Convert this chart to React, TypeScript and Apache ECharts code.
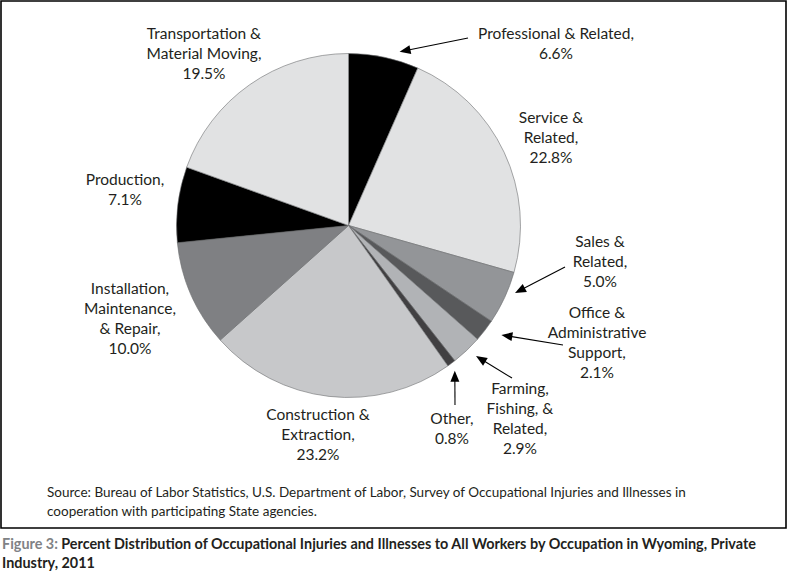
import React, { useEffect, useRef } from "react";
import * as echarts from "echarts";

const categories = [
  "Professional & Related",
  "Service & Related",
  "Sales & Related",
  "Office & Administrative Support",
  "Farming, Fishing, & Related",
  "Other",
  "Construction & Extraction",
  "Installation, Maintenance, & Repair",
  "Production",
  "Transportation & Material Moving",
];
const values = [6.6, 22.8, 5.0, 2.1, 2.9, 0.8, 23.2, 10.0, 7.1, 19.5];
const labelTexts = [
  "Professional & Related,",
  "Service &\nRelated,",
  "Sales &\nRelated,",
  "Office &\nAdministrative\nSupport,",
  "Farming,\nFishing, &\nRelated,",
  "Other,",
  "Construction &\nExtraction,",
  "Installation,\nMaintenance,\n& Repair,",
  "Production,",
  "Transportation &\nMaterial Moving,",
];
const colors = [
  "#000000", "#e1e2e3", "#939598", "#58595b", "#b1b3b6",
  "#414042", "#c7c8ca", "#7f8083", "#000000", "#e1e2e3",
];
// label block centres (layout)
const labelPos: [number, number][] = [
  [556, 43], [551, 137], [600, 261], [597, 342], [520, 418],
  [452, 428], [318, 434], [130, 318], [125, 189], [204, 53],
];
// arrows: [dataIndex, fraction within slice, tip radius, tailX, tailY]
const arrows: [number, number, number, number, number][] = [
  [0, 0.69, 181, 468, 38],
  [2, 0.346, 179.7, 565, 267],
  [3, 0.23, 188, 563, 345],
  [4, 0.41, 182.5, 512, 378],
  [5, 0.68, 180, 455, 405],
];

const CX = 348.5;
const CY = 225.5;
const R = 172;
const FONT = "Lato, 'Open Sans', sans-serif";

export default function App() {
  const ref = useRef<HTMLDivElement>(null);
  useEffect(() => {
    if (!ref.current) return;
    const chart = echarts.init(ref.current, null, { renderer: "svg" });
    const total = values.reduce((a, b) => a + b, 0);
    const starts: number[] = [];
    let acc = 0;
    values.forEach((v) => {
      starts.push(acc);
      acc += v;
    });
    const arrowEls: any[] = [];
    arrows.forEach(([i, f, r, tx, ty]) => {
      const ang = ((starts[i] + f * values[i]) / total) * Math.PI * 2;
      const px = CX + r * Math.sin(ang);
      const py = CY - r * Math.cos(ang);
      const dx = px - tx;
      const dy = py - ty;
      const len = Math.sqrt(dx * dx + dy * dy);
      const ux = dx / len;
      const uy = dy / len;
      const hl = 11;
      const hw = 4.5;
      const bx = px - ux * hl;
      const by = py - uy * hl;
      arrowEls.push({
        type: "line",
        shape: { x1: tx, y1: ty, x2: bx + ux * 2, y2: by + uy * 2 },
        style: { stroke: "#000", lineWidth: 1.1 },
        silent: true,
      });
      arrowEls.push({
        type: "polygon",
        shape: {
          points: [
            [px, py],
            [bx - uy * hw, by + ux * hw],
            [bx + uy * hw, by - ux * hw],
          ],
        },
        style: { fill: "#000" },
        silent: true,
      });
    });

    chart.setOption({
      animation: false,
      backgroundColor: "#ffffff",
      series: [
        {
          type: "pie",
          center: [CX, CY],
          radius: R,
          startAngle: 90,
          clockwise: true,
          data: categories.map((c, i) => ({
            name: c,
            value: values[i],
            itemStyle: { color: colors[i] },
          })),
          itemStyle: { borderColor: "#6d6e71", borderWidth: 0.6 },
          emphasis: { disabled: true },
          label: {
            show: true,
            position: "outside",
            formatter: (p: any) =>
              labelTexts[p.dataIndex] + "\n" + values[p.dataIndex].toFixed(1) + "%",
            fontFamily: FONT,
            fontSize: 15.5,
            lineHeight: 20,
            color: "#231f20",
            align: "center",
          },
          labelLine: { show: false },
          labelLayout: (p: any) => ({
            x: labelPos[p.dataIndex][0],
            y: labelPos[p.dataIndex][1],
            align: "center",
            verticalAlign: "middle",
          }),
        },
      ],
      graphic: [
        {
          type: "rect",
          shape: { x: 1, y: 1, width: 785, height: 527 },
          style: { fill: "none", stroke: "#000", lineWidth: 1.6 },
          silent: true,
        },
        ...arrowEls,
        {
          type: "text",
          x: 47,
          y: 501,
          style: {
            text: "Source: Bureau of Labor Statistics, U.S. Department of Labor, Survey of Occupational Injuries and Illnesses in\ncooperation with participating State agencies.",
            font: `13.5px ${FONT}`,
            lineHeight: 19,
            fill: "#231f20",
            verticalAlign: "middle",
          },
        },
        {
          type: "text",
          x: 2,
          y: 553,
          style: {
            text: "{g|Figure 3:} {b|Percent Distribution of Occupational Injuries and Illnesses to All Workers by Occupation in Wyoming, Private}\n{b|Industry, 2011}",
            verticalAlign: "middle",
            rich: {
              g: { fontFamily: FONT, fontSize: 14.4, fontWeight: "bold", fill: "#808285", lineHeight: 19 },
              b: { fontFamily: FONT, fontSize: 14.4, fontWeight: "bold", fill: "#231f20", lineHeight: 19 },
            },
          },
        },
      ],
    });
    return () => chart.dispose();
  }, []);
  return (
    <div
      ref={ref}
      style={{ position: "absolute", left: 0, top: 0, width: 788, height: 585 }}
    />
  );
}
